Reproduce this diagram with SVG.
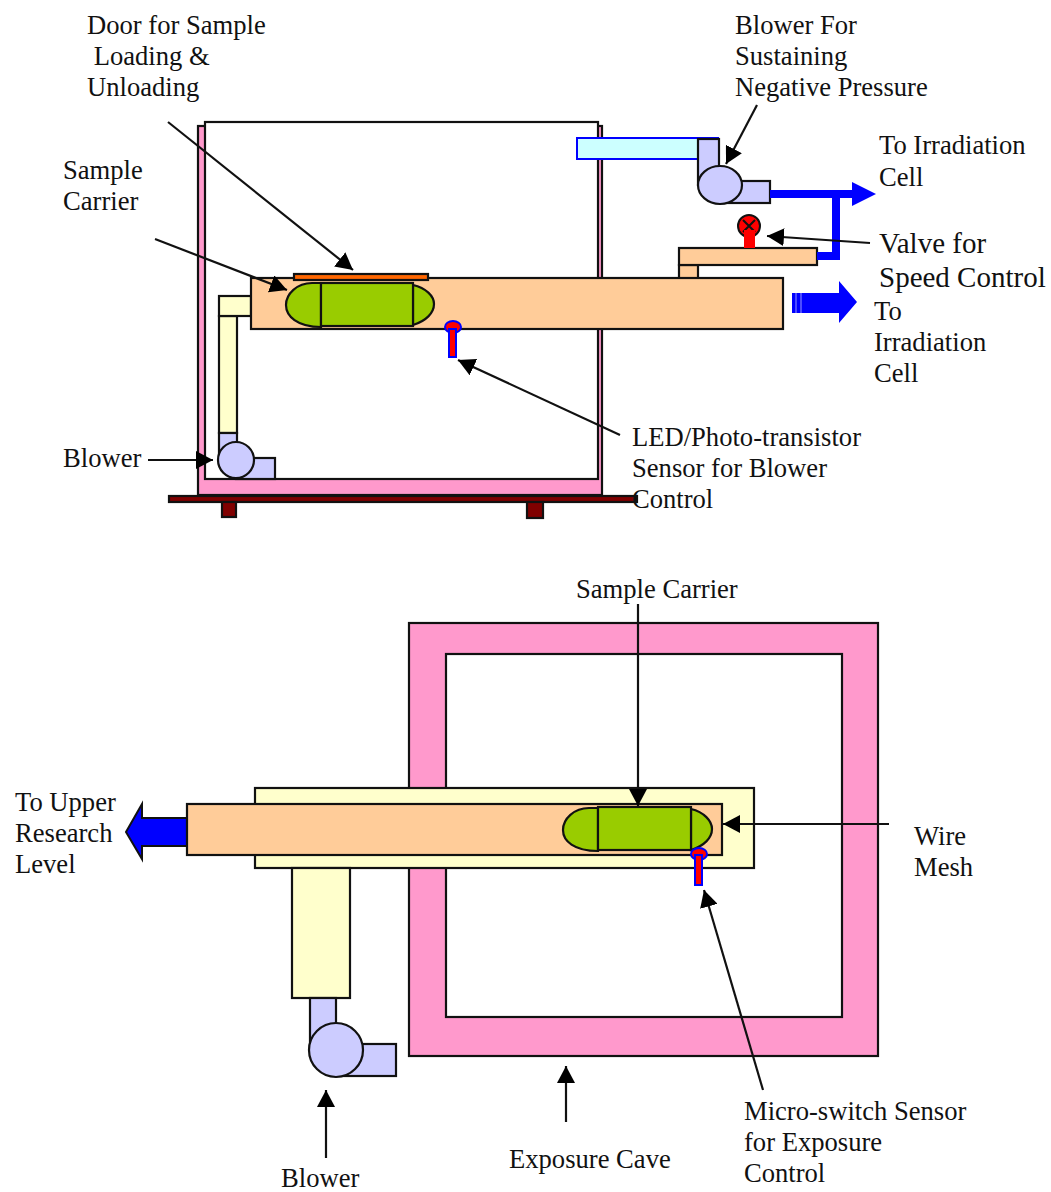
<svg xmlns="http://www.w3.org/2000/svg" width="1051" height="1192" viewBox="0 0 1051 1192">
<style>
text{font-family:"Liberation Serif","Times New Roman",serif;font-size:26.6px;fill:#111}
.big{font-size:29px}
.s{stroke:#111;stroke-width:2.2}
.pink{fill:#f9c}.white{fill:#fff}.tube{fill:#fc9}.yel{fill:#ffc}.pur{fill:#ccf}.grn{fill:#9c0}.mar{fill:#800000}
.sen{fill:#f00;stroke:#00f;stroke-width:2}
.con{stroke:#111;stroke-width:2.2;fill:none;marker-end:url(#a)}
.bl{stroke:#00f;stroke-width:8;fill:none}
</style>
<defs>
<marker id="a" markerUnits="userSpaceOnUse" markerWidth="18" markerHeight="18" refX="17" refY="9" orient="auto"><path d="M0 0L17 9L0 18Z" fill="#000"/></marker>
</defs>
<rect width="1051" height="1192" fill="#fff"/>
<g id="chamber">
<rect class="s pink" x="198" y="126" width="404" height="369"/>
<rect class="s white" x="205" y="122" width="393" height="357"/>
<rect class="s mar" x="169" y="496" width="468" height="6"/>
<rect class="s mar" x="222" y="502" width="14" height="15"/>
<rect class="s mar" x="527" y="502" width="16" height="16"/>
</g>
<g id="duct-top">
<rect class="s yel" x="219" y="316" width="18" height="117"/>
<rect class="s yel" x="219" y="296" width="32" height="20"/>
</g>
<g id="blower-top">
<rect class="s pur" x="219" y="433" width="18" height="27"/>
<rect class="s pur" x="236" y="458" width="39" height="21"/>
<circle class="s pur" cx="236" cy="460" r="18"/>
</g>
<g id="tube-top">
<rect class="s tube" x="679" y="265" width="19" height="14"/>
<rect class="s tube" x="251" y="278" width="532" height="51"/>
<rect class="s tube" x="679" y="248" width="138" height="17"/>
</g>
<g id="door"><rect x="294" y="274" width="134" height="6" fill="#f60" class="s"/></g>
<g id="carrier-top">
<path class="s grn" d="M321 283H312C297 283 286 294 286 305C286 316 297 327 321 327ZM413 285C426 288 434 296 434 304C434 313 426 321 413 325Z"/>
<rect class="s grn" x="321" y="283" width="92" height="43"/>
</g>
<g id="sensor-top">
<ellipse class="sen" cx="453" cy="327" rx="8" ry="6"/>
<rect class="sen" x="449" y="329" width="7" height="28"/>
</g>
<g id="exhaust">
<rect x="577" y="138" width="121" height="21" fill="#cff" stroke="#00f" stroke-width="2"/>
<path d="M698 138H719" stroke="#00f" stroke-width="2"/>
<rect class="s pur" x="698" y="139" width="21" height="46"/>
<rect class="s pur" x="720" y="181" width="50" height="22"/>
<ellipse class="s pur" cx="720" cy="185" rx="22" ry="19"/>
<path class="bl" d="M770 194H852M836 194V256H817"/>
<path fill="#00f" d="M852 182L876 194L852 206Z"/>
</g>
<g id="valve">
<circle cx="749" cy="226" r="11" fill="#f00" stroke="#111" stroke-width="2"/>
<path d="M743 220L755 232M755 220L743 232" stroke="#111" stroke-width="2"/>
<rect x="744" y="230" width="11" height="18" fill="#f00"/>
</g>
<g id="arrow-right">
<path fill="#00f" d="M792 293H839V281L857 302L839 323V313H792Z"/>
<path d="M796 293V313M801 293V313" stroke="#fff" stroke-width="0.6"/>
</g>
<g id="cave">
<rect class="s pink" x="409" y="623" width="469" height="433"/>
<rect class="s white" x="446" y="654" width="396" height="363"/>
</g>
<g id="duct-bottom">
<rect class="s yel" x="255" y="788" width="499" height="80"/>
<rect class="s yel" x="292" y="868" width="58" height="130"/>
</g>
<g id="blower-bottom">
<rect class="s pur" x="310" y="998" width="26" height="50"/>
<rect class="s pur" x="336" y="1044" width="60" height="32"/>
<circle class="s pur" cx="336" cy="1050" r="27"/>
</g>
<g id="arrow-left">
<path fill="#00f" stroke="#111" stroke-width="2" d="M187 818H142V804L126 832L142 859V846H187Z"/>
</g>
<g id="tube-bottom"><rect class="s tube" x="187" y="804" width="535" height="51"/></g>
<g id="carrier-bottom">
<path class="s grn" d="M598 808H589C574 808 563 819 563 830C563 841 574 851 598 851ZM691 809C704 812 712 821 712 829C712 838 704 846 691 850Z"/>
<rect class="s grn" x="598" y="807" width="93" height="43"/>
</g>
<g id="sensor-bottom">
<ellipse class="sen" cx="699" cy="854" rx="8" ry="6"/>
<rect class="sen" x="695" y="855" width="7" height="30"/>
</g>
<g id="connectors">
<path class="con" d="M168 122L353 270"/>
<path class="con" d="M155 239L287 290"/>
<path class="con" d="M148 460H213"/>
<path class="con" d="M620 435L458 360"/>
<path class="con" d="M757 105L726 164"/>
<path class="con" d="M870 243L767 236"/>
<path class="con" d="M638 604V806"/>
<path class="con" d="M889 824H723"/>
<path class="con" d="M763 1090L704 890"/>
<path class="con" d="M326 1158V1090"/>
<path class="con" d="M566 1122V1066"/>
</g>
<g id="labels">
<text x="87" y="34">Door for Sample</text>
<text x="87" y="65" xml:space="preserve"> Loading &amp;</text>
<text x="87" y="96">Unloading</text>
<text x="63" y="179">Sample</text>
<text x="63" y="210">Carrier</text>
<text x="63" y="467">Blower</text>
<text x="735" y="34">Blower For</text>
<text x="735" y="65">Sustaining</text>
<text x="735" y="96">Negative Pressure</text>
<text x="879" y="154">To Irradiation</text>
<text x="879" y="186">Cell</text>
<text x="879" y="253" class="big">Valve for</text>
<text x="879" y="287" class="big">Speed Control</text>
<text x="874" y="320">To</text>
<text x="874" y="351">Irradiation</text>
<text x="874" y="382">Cell</text>
<text x="632" y="446">LED/Photo-transistor</text>
<text x="632" y="477">Sensor for Blower</text>
<text x="632" y="508">Control</text>
<text x="576" y="598">Sample Carrier</text>
<text x="15" y="811">To Upper</text>
<text x="15" y="842">Research</text>
<text x="15" y="873">Level</text>
<text x="914" y="845">Wire</text>
<text x="914" y="876">Mesh</text>
<text x="744" y="1120">Micro-switch Sensor</text>
<text x="744" y="1151">for Exposure</text>
<text x="744" y="1182">Control</text>
<text x="509" y="1168">Exposure Cave</text>
<text x="281" y="1187">Blower</text>
</g>
</svg>
